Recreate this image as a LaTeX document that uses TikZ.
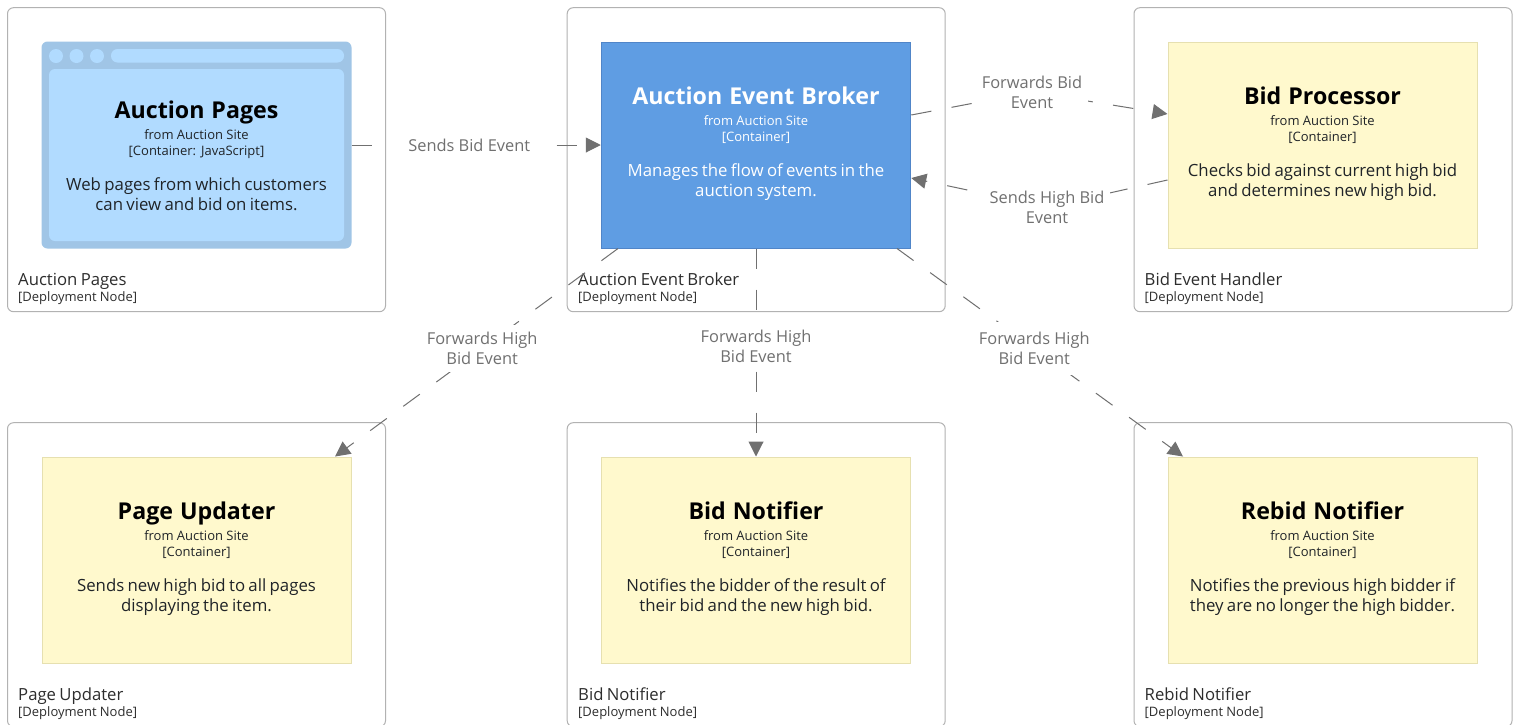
\documentclass[tikz,border=0pt]{standalone}
\usepackage{fontspec}
\setmainfont{Open Sans}
\usetikzlibrary{arrows.meta,calc}
\definecolor{deployline}{RGB}{178,178,178}
\definecolor{conngray}{RGB}{112,112,112}
\definecolor{yellowfill}{RGB}{255,249,205}
\definecolor{yellowline}{RGB}{230,224,176}
\definecolor{brokerfill}{RGB}{95,157,227}
\definecolor{brokerline}{RGB}{80,133,200}
\definecolor{pagesfill}{RGB}{177,219,255}
\definecolor{pagesline}{RGB}{160,197,230}
\definecolor{bodytext}{RGB}{32,36,40}
\definecolor{deployink}{RGB}{45,45,45}
\newcommand{\boxtail}{3pt}
\tikzset{
  deploy/.style={draw=deployline,fill=white,line width=1pt,rounded corners=6pt,minimum width=378pt,minimum height=304pt,inner sep=0pt},
  deploytext/.style={anchor=south west,align=left,text width=300pt,inner sep=0pt,text=deployink},
  yellowbox/.style={draw=yellowline,fill=yellowfill,line width=1pt,minimum width=309pt,minimum height=206pt,inner sep=0pt,align=center,text width=300pt,text=bodytext,execute at begin node={\colorlet{titleink}{black}}},
  brokerbox/.style={draw=brokerline,fill=brokerfill,line width=1pt,minimum width=309.5pt,minimum height=206pt,inner sep=0pt,align=center,text width=300pt,text=white,execute at begin node={\colorlet{titleink}{white}}},
  pagesbox/.style={fill=pagesline,rounded corners=6pt,minimum width=310pt,minimum height=207pt,inner sep=0pt},
  pagesinner/.style={fill=pagesfill,rounded corners=6pt,minimum width=295pt,minimum height=172pt,inner sep=0pt,align=center,text width=290pt,text=bodytext,execute at begin node={\colorlet{titleink}{black}\renewcommand{\boxtail}{-1pt}}},
  conn/.style={draw=conngray,line width=1pt,dash pattern=on 20.5pt off 20.5pt,-{Triangle[length=15pt,width=15pt]}},
  connlabel/.style={fill=white,text=conngray,align=center,inner xsep=6pt,inner ysep=7.5pt,font=\fontsize{16.4}{20}\selectfont,solid},
}
% title, kind line and description of one box
\newcommand{\boxtext}[4]{%
  {\fontsize{23.2}{25}\selectfont\bfseries\spaceskip=0.3em\color{titleink} #1\par}%
  {\fontsize{13}{21}\selectfont from Auction Site\par}%
  {\fontsize{13}{16}\selectfont [#2]\par}%
  {\fontsize{16.8}{35}\selectfont #3\par}%
  {\fontsize{16.8}{20}\selectfont #4\par}\vspace*{\boxtail}}
\newcommand{\deploytitle}[1]{%
  {\fontsize{16.7}{20}\selectfont #1\par}%
  {\fontsize{13}{16.5}\selectfont [Deployment Node]\par}}

\begin{document}
\begin{tikzpicture}[x=1pt,y=-1pt]
\clip (0,0) rectangle (1518,724);
\fill[white] (0,0) rectangle (1518,724);
% deployment nodes
\node[deploy] (depPages) at (196.5,159.7) {};
\node[deploy] (depBroker) at (756.2,159.7) {};
\node[deploy] (depHandler) at (1323,159.7) {};
\node[deploy] (depUpdater) at (196.5,574.7) {};
\node[deploy] (depNotifier) at (756.2,574.7) {};
\node[deploy] (depRebid) at (1323,574.7) {};
\node[deploytext] (txtPages) at (18,305) {\deploytitle{Auction Pages}};
\node[deploytext] (txtBroker) at (578,305) {\deploytitle{Auction Event Broker}};
\node[deploytext] (txtHandler) at (1144.5,305) {\deploytitle{Bid Event Handler}};
\node[deploytext] (txtUpdater) at (18,720) {\deploytitle{Page Updater}};
\node[deploytext] (txtNotifier) at (578,720) {\deploytitle{Bid Notifier}};
\node[deploytext] (txtRebid) at (1144.5,720) {\deploytitle{Rebid Notifier}};
% containers
\node[pagesbox] (pages) at (196.5,145) {};
\node[pagesinner] (pagesBody) at (196.5,155) {\boxtext{Auction Pages}{Container: JavaScript}{Web pages from which customers}{can view and bid on items.}};
\fill[pagesfill] (56,56) circle (7pt) (76.5,56) circle (7pt) (97,56) circle (7pt);
\fill[pagesfill,rounded corners=6.5pt] (111,49) rectangle (344,62.5);
\node[brokerbox] (broker) at (756,145) {\boxtext{Auction Event Broker}{Container}{Manages the flow of events in the}{auction system.}};
\node[yellowbox] (processor) at (1322.5,145) {\boxtext{Bid Processor}{Container}{Checks bid against current high bid}{and determines new high bid.}};
\node[yellowbox] (updater) at (196.5,560) {\boxtext{Page Updater}{Container}{Sends new high bid to all pages}{displaying the item.}};
\node[yellowbox] (notifier) at (756,560) {\boxtext{Bid Notifier}{Container}{Notifies the bidder of the result of}{their bid and the new high bid.}};
\node[yellowbox] (rebid) at (1322.5,560) {\boxtext{Rebid Notifier}{Container}{Notifies the previous high bidder if}{they are no longer the high bidder.}};
% connectors
\coordinate (bendFwd) at (1032,92);
\coordinate (bendHigh) at (1047,207);
\draw[conn] (pages.east) -- node[connlabel,pos=0.472,inner xsep=16pt] (lblSends) {Sends Bid Event} (broker.west);
\draw[conn] ([yshift=30pt]broker.east) -- (bendFwd) node[connlabel] (lblFwd) {Forwards Bid\\Event} -- ([yshift=31pt]processor.west);
\draw[conn] ([yshift=-35pt]processor.west) -- (bendHigh) node[connlabel] (lblHigh) {Sends High Bid\\Event} -- ([yshift=-33pt]broker.east);
\draw[conn] ([xshift=-138pt]broker.south) -- node[connlabel,pos=0.48] (lblUpdater) {Forwards High\\Bid Event} ([xshift=138.5pt]updater.north);
\draw[conn] (broker.south) -- node[connlabel,pos=0.47] (lblNotifier) {Forwards High\\Bid Event} (notifier.north);
\draw[conn] ([xshift=141pt]broker.south) -- node[connlabel,pos=0.48,inner ysep=10pt] (lblRebid) {Forwards High\\Bid Event} ([xshift=-139.5pt]rebid.north);
\end{tikzpicture}
\end{document}
